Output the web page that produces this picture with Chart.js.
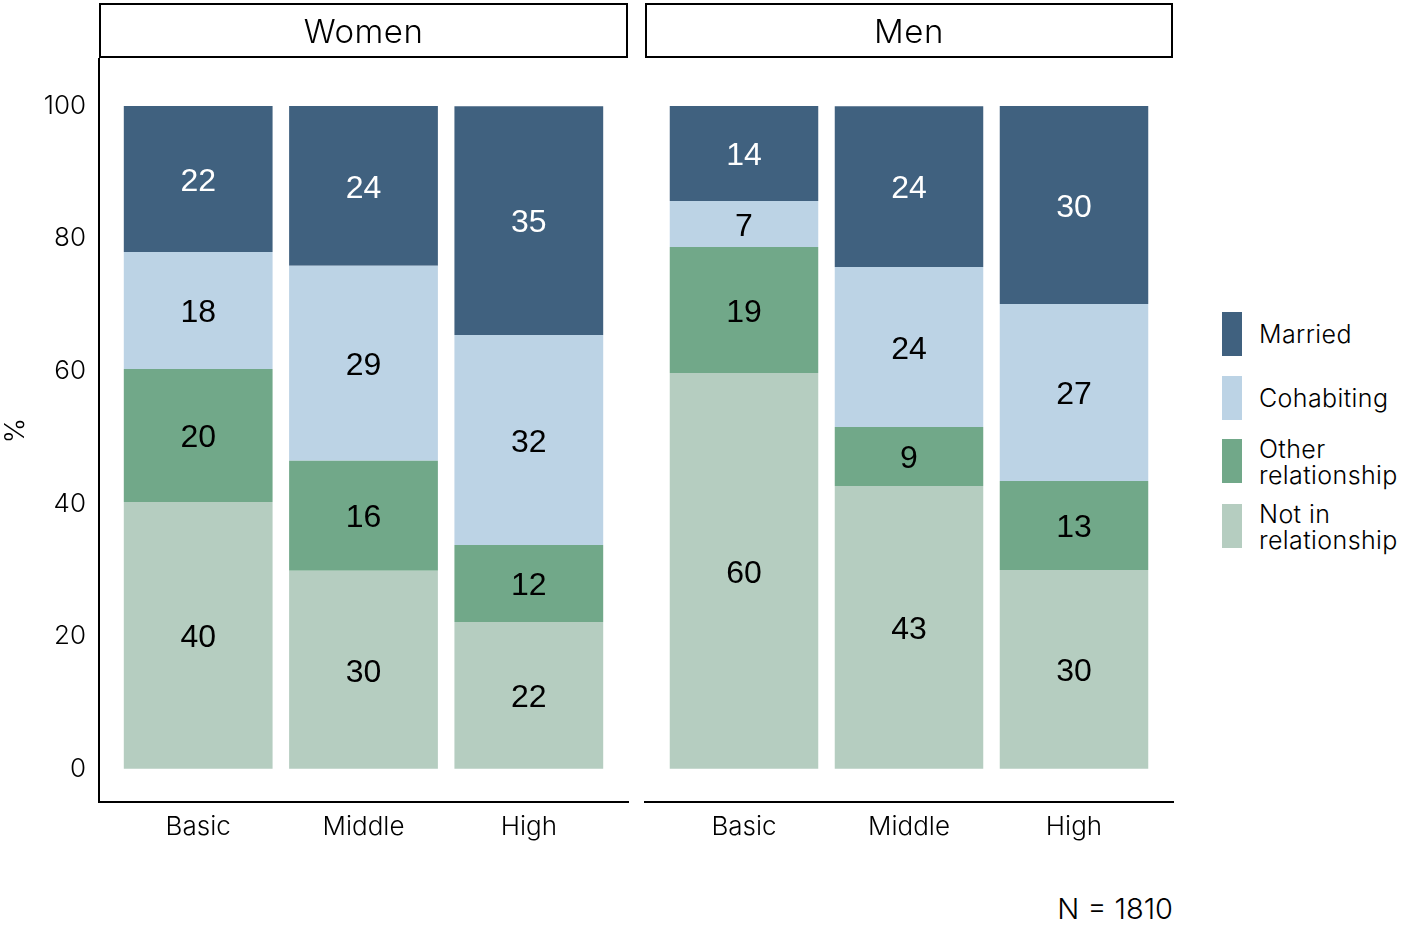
<!DOCTYPE html>
<html>
<head>
<meta charset="utf-8">
<script src="https://cdn.jsdelivr.net/npm/chart.js@4"></script>
<style>
  body { margin: 0; background: #fff; }
  #wrap { position: relative; width: 1414px; height: 941px; font-family: Inter, "Noto Sans", sans-serif; color: #000; }
  canvas { position: absolute; }
  .strip { position: absolute; top: 3px; height: 51px; border: 2px solid #000; box-sizing: content-box;
           display: flex; align-items: center; justify-content: center; font-size: 33px; font-weight: 300; letter-spacing: 0.5px; }
  #legend { position: absolute; left: 1222px; top: 312px; }
  .item { position: absolute; left: 0; width: 200px; }
  .key { position: absolute; left: 0; width: 20px; height: 44px; }
  .lab { position: absolute; left: 37px; font-size: 25px; line-height: 26px; font-weight: 300; white-space: nowrap; letter-spacing: 0.4px; }
  #note { position: absolute; right: 241px; top: 891px; font-size: 29px; font-weight: 300; }
</style>
</head>
<body>
<div id="wrap">
  <canvas id="women"></canvas>
  <canvas id="men"></canvas>
  <div class="strip" style="left:99px;width:525px;">Women</div>
  <div class="strip" style="left:645px;width:524px;">Men</div>
  <div id="legend"></div>
  <div id="note">N = 1810</div>
</div>
<script>
/* -------- Daten -------- */
const categories = ["Basic", "Middle", "High"];
const seriesNames = ["Not in relationship", "Other relationship", "Cohabiting", "Married"];
const seriesColors = ["#b5cdc0", "#71a889", "#bcd3e5", "#40617f"];
const yTicks = [0, 20, 40, 60, 80, 100];

// Women: Basic, Middle, High
const womenNotInRel = [40.27, 29.9, 22.17];
const womenOther    = [20.06, 16.6, 11.61];
const womenCohab    = [17.65, 29.4, 31.67];
const womenMarried  = [22.02, 24.1, 34.54];
const womenLabels = [[40, 30, 22], [20, 16, 12], [18, 29, 32], [22, 24, 35]];

// Men: Basic, Middle, High
const menNotInRel = [59.73, 42.68, 30.02];
const menOther    = [19.0, 8.9, 13.42];
const menCohab    = [6.94, 24.13, 26.7];
const menMarried  = [14.33, 24.28, 29.86];
const menLabels = [[60, 43, 30], [19, 9, 13], [7, 24, 27], [14, 24, 30]];

const tickFont = { family: "Inter", size: 26, weight: 300 };

/* -------- Balken-Beschriftung -------- */
const barLabels = {
  id: "barLabels",
  afterDatasetsDraw(chart, args, opts) {
    const ctx = chart.ctx;
    ctx.save();
    ctx.font = "32px 'Liberation Sans', Arial, sans-serif";
    ctx.textAlign = "center";
    ctx.textBaseline = "middle";
    chart.data.datasets.forEach((ds, di) => {
      chart.getDatasetMeta(di).data.forEach((bar, i) => {
        const { x, y, base } = bar.getProps(["x", "y", "base"], true);
        ctx.fillStyle = di === 3 ? "#ffffff" : "#000000";
        ctx.fillText(String(opts.labels[di][i]), x, (y + base) / 2 + 3);
      });
    });
    ctx.restore();
  }
};

function makePanel(id, series, labels, showY, left, width) {
  const canvas = document.getElementById(id);
  canvas.style.left = left + "px";
  canvas.style.top = "0px";
  canvas.width = width;
  canvas.height = 870;
  canvas.style.width = width + "px";
  canvas.style.height = "870px";

  const datasets = series.map((vals, s) => ({
    label: seriesNames[s],
    data: vals.map((v, i) => ({ x: i + 1, y: v })),
    backgroundColor: seriesColors[s],
    borderWidth: 0,
    categoryPercentage: 0.9,
    barPercentage: 1
  }));

  return new Chart(canvas.getContext("2d"), {
    type: "bar",
    data: { datasets },
    plugins: [barLabels],
    options: {
      responsive: false,
      animation: false,
      layout: { padding: { top: 59, right: 12, left: showY ? 0 : 45, bottom: 0 } },
      plugins: { legend: { display: false }, tooltip: { enabled: false }, barLabels: { labels } },
      scales: {
        x: {
          type: "linear",
          stacked: true,
          offset: false,
          min: 0.4,
          max: 3.6,
          grid: { display: false, drawTicks: false },
          border: { display: true, color: "#000", width: 2 },
          afterBuildTicks: ax => { ax.ticks = categories.map((c, i) => ({ value: i + 1 })); },
          afterFit: ax => { ax.height = 68; },
          ticks: { color: "#000", font: tickFont, padding: 10, maxRotation: 0, autoSkip: false,
                   callback: v => categories[v - 1] }
        },
        y: {
          display: showY,
          stacked: true,
          min: -5,
          max: 107.1,
          grid: { display: false, drawTicks: false },
          border: { display: true, color: "#000", width: 2 },
          afterBuildTicks: ax => { ax.ticks = yTicks.map(v => ({ value: v })); },
          afterFit: ax => { ax.width = showY ? 99 : 0; },
          title: { display: true, text: "%", color: "#000", font: { family: "Inter", size: 27, weight: 300 }, padding: 0 },
          ticks: { color: "#000", font: tickFont, padding: 13 }
        }
      }
    }
  });
}

makePanel("women", [womenNotInRel, womenOther, womenCohab, womenMarried], womenLabels, true, 0, 640);
makePanel("men", [menNotInRel, menOther, menCohab, menMarried], menLabels, false, 600, 585);

/* -------- Legende -------- */
const legend = document.getElementById("legend");
const legendOrder = [3, 2, 1, 0];
const legendTops = [0, 64, 127, 192];
const legendText = ["Married", "Cohabiting", "Other<br>relationship", "Not in<br>relationship"];
legendOrder.forEach((s, k) => {
  const item = document.createElement("div");
  item.className = "item";
  item.style.top = legendTops[k] + "px";
  const twoLines = legendText[k].includes("<br>");
  item.innerHTML = `<div class="key" style="background:${seriesColors[s]}"></div>
    <div class="lab" style="top:${twoLines ? -3 : 9}px">${legendText[k]}</div>`;
  legend.appendChild(item);
});
</script>
</body>
</html>
